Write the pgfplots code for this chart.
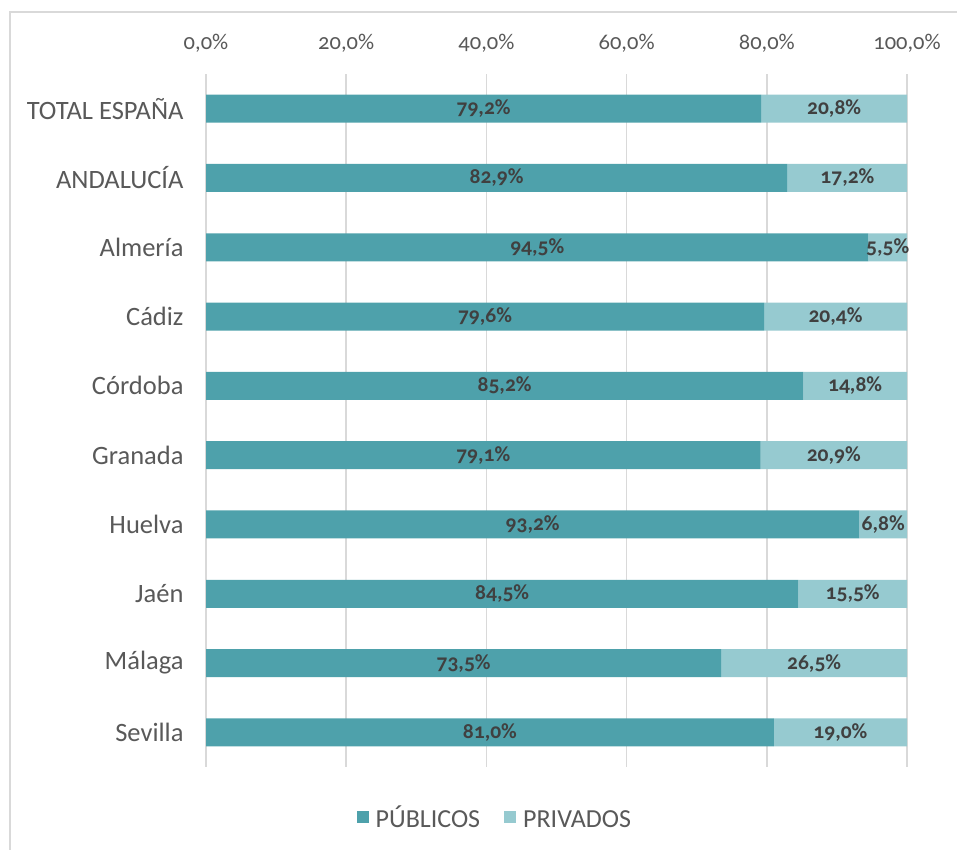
\documentclass[border=0pt]{standalone}
\usepackage{fontspec}
\setmainfont{Carlito}[Numbers=OldStyle]
\usepackage{pgfplots}
\pgfplotsset{compat=1.18}
\usepackage{pgfplotstable}
\definecolor{pub}{HTML}{4EA1AB}
\definecolor{priv}{HTML}{96CAD0}
\definecolor{txt}{HTML}{595959}
\definecolor{lbl}{HTML}{404040}
\definecolor{gridc}{HTML}{D9D9D9}
\pgfplotstableread[col sep=comma]{
y,pub,priv
0,79.2,20.8
1,82.9,17.2
2,94.5,5.5
3,79.6,20.4
4,85.2,14.8
5,79.1,20.9
6,93.2,6.8
7,84.5,15.5
8,73.5,26.5
9,81.0,19.0
}\data
\pgfplotsset{
  base/.style={
    at={(206pt,83pt)}, anchor=south west, scale only axis,
    width=701pt, height=693pt,
    xmin=0, xmax=100, ymin=-0.5, ymax=9.5, y dir=reverse,
    /pgf/number format/assume math mode=true,
  },
}
\begin{document}
\begin{tikzpicture}[x=1pt,y=1pt]
\useasboundingbox (0,0) rectangle (957,850);
\draw[gridc, line width=1.5pt] (10,-5) -- (10,838) -- (965,838);
\begin{axis}[base,
  xbar stacked, bar width=28pt,
  axis line style={draw=none},
  major tick length=0pt,
  xtick={0,20,...,100},
  xticklabel pos=right,
  xticklabel={\fontsize{22.5}{27}\selectfont\pgfmathprintnumber[fixed,fixed zerofill,precision=1,use comma]{\tick}\%},
  xticklabel style={text=txt, yshift=18pt},
  ytick={0,...,9},
  yticklabels={TOTAL ESPAÑA,ANDALUCÍA,Almería,Cádiz,Córdoba,Granada,Huelva,Jaén,Málaga,Sevilla},
  yticklabel style={font=\fontsize{26.5}{30}\selectfont, text=txt, xshift=-19pt},
  xmajorgrids, grid style={gridc, line width=1.5pt},
  legend style={at={(axis description cs:0.412,-0.0736)}, anchor=center, draw=none,
    legend columns=2, font=\fontsize{26}{30}\selectfont, text=txt,
    nodes={text height=21pt, text depth=2pt},
    /tikz/every odd column/.append style={column sep=5pt},
    /tikz/every even column/.append style={column sep=22pt}},
  legend image code/.code={\fill[#1] (0pt,-5pt) rectangle (12pt,7pt);},
]
\addplot[fill=pub, draw=none] table[x=pub, y=y]{\data};
\addplot[fill=priv, draw=none] table[x=priv, y=y]{\data};
\legend{PÚBLICOS, PRIVADOS}
\end{axis}
\begin{axis}[base, hide axis,
  nodes near coords={\pgfmathprintnumber[fixed,fixed zerofill,precision=1,use comma]{\pgfplotspointmeta}\%},
  nodes near coords align=center,
  every node near coord/.append style={font=\bfseries\fontsize{21.5}{25}\selectfont, text=lbl, anchor=center, inner sep=0pt},
]
\addplot[only marks, mark=none, point meta=explicit] table[x expr=\thisrow{pub}/2, y=y, meta=pub]{\data};
\addplot[only marks, mark=none, point meta=explicit] table[x expr=\thisrow{pub}+\thisrow{priv}/2, y=y, meta=priv]{\data};
\end{axis}
\end{tikzpicture}
\end{document}
